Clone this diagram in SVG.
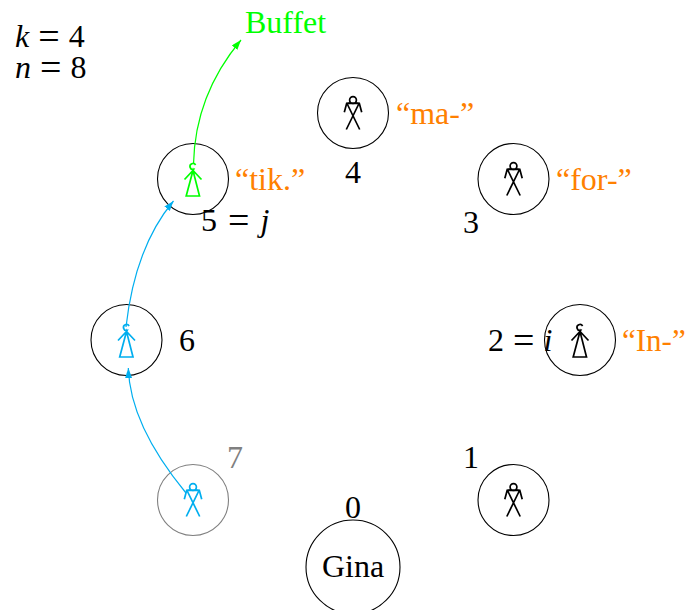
<svg xmlns="http://www.w3.org/2000/svg" width="686" height="610" viewBox="0 0 686 610">
<style>
text{font-family:"Liberation Serif","Times New Roman",serif;font-size:32px;fill:#000}
.m{word-spacing:1px}
.eq{font-size:38px}
.o{fill:#ff8000}
.i{font-style:italic}
.c{fill:none;stroke:#000;stroke-width:1.1}
.fig{fill:none;stroke:#000;stroke-width:1.7}
.bl{stroke:#00aeef}
.gr{stroke:#00ff00}
.e{fill:none;stroke-width:1.2}
</style>
<defs>
<g id="man"><circle cx="0" cy="-13" r="3.4"/><path d="M-2.500-10.200-6.300-9.700-8.700-0.700M2.500-10.200 6.300-9.700 8.700-0.700M-6-9.500 6.700 16.500M6-9.500-6.700 16.500M-6.300-9.700H6.300"/></g>
<g id="woman"><path d="M2.600-14A3 3 0 1 0 0.600-9.600L0-8.500M-8.500 0.500 0-8.500 8.500 0.500M0-8.500-6.800 17H6.500Z"/></g>
<marker id="ab" markerUnits="userSpaceOnUse" markerWidth="12" markerHeight="10" refX="10" refY="3.500" orient="auto"><path d="M0 0L10 3.500 0 7Z" fill="#00aeef"/></marker>
<marker id="ag" markerUnits="userSpaceOnUse" markerWidth="12" markerHeight="10" refX="10" refY="3.500" orient="auto"><path d="M0 0L10 3.500 0 7Z" fill="#00ff00"/></marker>
</defs>
<g id="info"><text class="m" x="15" y="47"><tspan class="i">k</tspan> <tspan class="eq" dy="2">=</tspan> <tspan dy="-2">4</tspan></text><text class="m" x="15" y="78"><tspan class="i">n</tspan> <tspan class="eq" dy="2">=</tspan> <tspan dy="-2">8</tspan></text></g>
<g id="node0"><circle class="c" cx="353" cy="567" r="47"/><text x="353" y="577" text-anchor="middle">Gina</text><text x="353" y="518" text-anchor="middle">0</text></g>
<g id="node1"><circle class="c" cx="513.500" cy="500" r="35.500"/><use class="fig" href="#man" x="513.500" y="500"/><text x="471" y="468" text-anchor="middle">1</text></g>
<g id="node2"><text class="m" x="488" y="351">2 <tspan class="eq" dy="2">=</tspan> <tspan class="i" dy="-2">i</tspan></text><circle class="c" cx="580" cy="340" r="35.500"/><use class="fig" href="#woman" x="580" y="340"/><text class="o" x="622" y="351" style="font-size:31px">“In-”</text></g>
<g id="node3"><circle class="c" cx="513.500" cy="179" r="35.500"/><use class="fig" href="#man" x="513.500" y="179"/><text x="471" y="233" text-anchor="middle">3</text><text class="o" x="556" y="190">“for-”</text></g>
<g id="node4"><circle class="c" cx="353" cy="113" r="35.500"/><use class="fig" href="#man" x="353" y="113"/><text x="353" y="183" text-anchor="middle">4</text><text class="o" x="396" y="124">“ma-”</text></g>
<g id="node5"><circle class="c" cx="193" cy="179" r="35.500"/><use class="fig gr" href="#woman" x="193" y="179"/><text class="m" x="201" y="231" style="word-spacing:3px">5 <tspan class="eq" dy="2">=</tspan> <tspan class="i" dy="-2">j</tspan></text><text class="o" x="235" y="190">“tik.”</text></g>
<g id="node6"><circle class="c" cx="126.500" cy="340" r="35.500"/><use class="fig bl" href="#woman" x="126.500" y="340"/><text x="187" y="351" text-anchor="middle">6</text></g>
<g id="node7"><circle class="c" style="stroke:#808080" cx="193" cy="500" r="35.500"/><use class="fig bl" href="#man" x="193" y="500"/><text x="235" y="468" text-anchor="middle" style="fill:#808080">7</text></g>
<g id="buffet"><text x="245" y="33" style="fill:#00ff00">Buffet</text></g>
<g id="connectors">
<path class="e" stroke="#00aeef" marker-end="url(#ab)" d="M186 493Q130 425 128.300 368"/>
<path class="e" stroke="#00aeef" marker-end="url(#ab)" d="M126 327Q135 247 173.500 201"/>
<path class="e" stroke="#00ff00" marker-end="url(#ag)" d="M193.500 164Q195 95 241 40"/>
</g>
</svg>
